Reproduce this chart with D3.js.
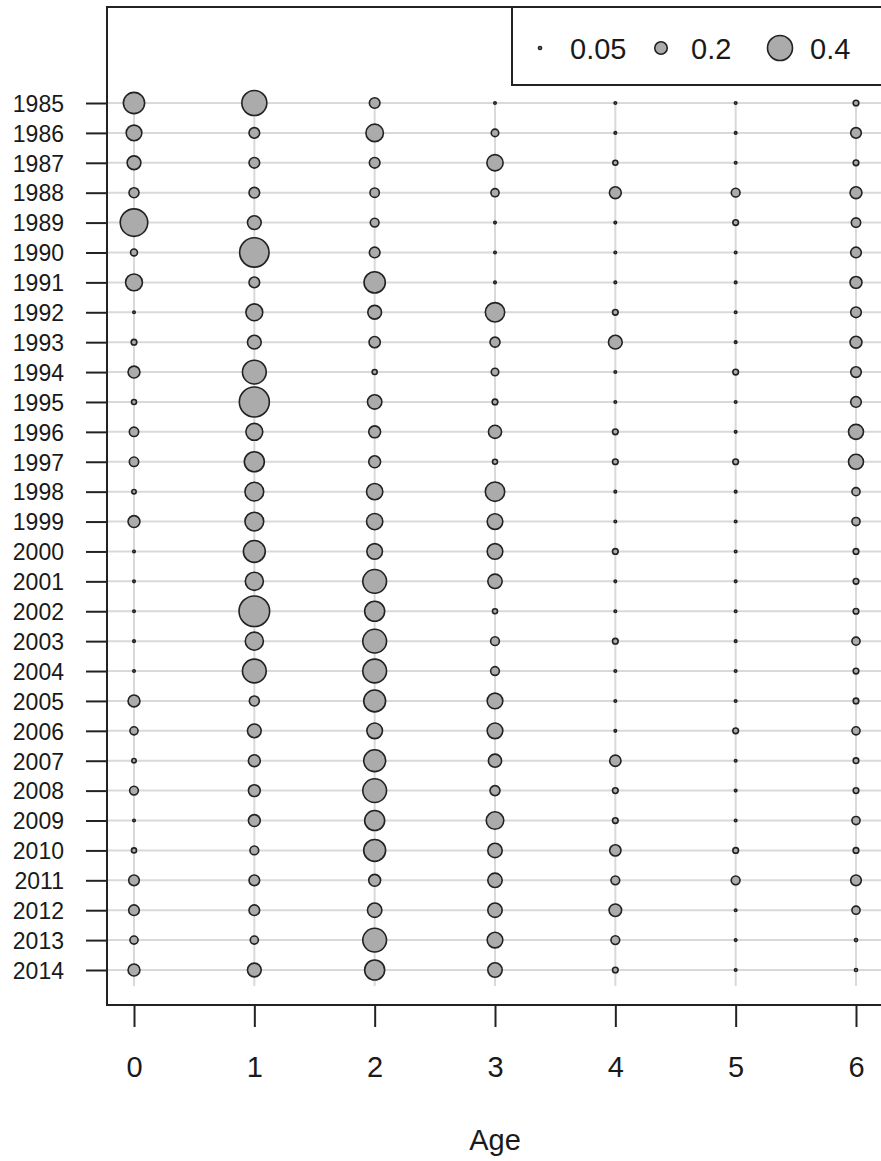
<!DOCTYPE html>
<html>
<head>
<meta charset="utf-8">
<script src="https://cdn.jsdelivr.net/npm/d3@7"></script>
<style>
  html, body { margin: 0; padding: 0; background: #fff; overflow: hidden; }
  svg { display: block; font-family: "Liberation Sans", Arial, sans-serif; }
</style>
</head>
<body>
<svg id="chart" width="881" height="1161"></svg>
<script>
// Proportion at age by year (bubble radius grows linearly with the value)
const years = d3.range(1985, 2015);
const ages = [0, 1, 2, 3, 4, 5, 6];

const age0 = [0.34, 0.25, 0.22, 0.16, 0.44, 0.11, 0.27, 0.04, 0.09, 0.19,
              0.08, 0.15, 0.15, 0.07, 0.19, 0.04, 0.04, 0.04, 0.04, 0.04,
              0.19, 0.13, 0.07, 0.14, 0.04, 0.08, 0.17, 0.17, 0.13, 0.19];
const age1 = [0.40, 0.17, 0.17, 0.17, 0.22, 0.47, 0.17, 0.27, 0.22, 0.38,
              0.48, 0.27, 0.32, 0.30, 0.30, 0.35, 0.29, 0.49, 0.29, 0.38,
              0.16, 0.22, 0.19, 0.19, 0.19, 0.14, 0.17, 0.17, 0.13, 0.22];
const age2 = [0.17, 0.28, 0.17, 0.15, 0.14, 0.17, 0.34, 0.22, 0.18, 0.08,
              0.23, 0.19, 0.19, 0.26, 0.26, 0.25, 0.38, 0.32, 0.38, 0.38,
              0.35, 0.25, 0.35, 0.38, 0.32, 0.35, 0.19, 0.23, 0.38, 0.32];
const age3 = [0.04, 0.12, 0.26, 0.13, 0.04, 0.04, 0.04, 0.31, 0.16, 0.12,
              0.09, 0.21, 0.08, 0.31, 0.25, 0.25, 0.23, 0.08, 0.14, 0.14,
              0.25, 0.25, 0.21, 0.16, 0.28, 0.23, 0.23, 0.23, 0.25, 0.23];
const age4 = [0.04, 0.04, 0.08, 0.19, 0.04, 0.04, 0.04, 0.09, 0.22, 0.04,
              0.04, 0.09, 0.09, 0.04, 0.04, 0.09, 0.04, 0.04, 0.09, 0.04,
              0.04, 0.04, 0.18, 0.09, 0.09, 0.18, 0.14, 0.20, 0.14, 0.09];
const age5 = [0.04, 0.04, 0.04, 0.14, 0.09, 0.04, 0.04, 0.04, 0.04, 0.09,
              0.04, 0.04, 0.09, 0.04, 0.04, 0.04, 0.04, 0.04, 0.04, 0.04,
              0.04, 0.09, 0.04, 0.04, 0.04, 0.09, 0.14, 0.04, 0.04, 0.04];
const age6 = [0.09, 0.17, 0.09, 0.19, 0.15, 0.17, 0.19, 0.17, 0.19, 0.17,
              0.17, 0.24, 0.24, 0.13, 0.13, 0.09, 0.09, 0.09, 0.13, 0.09,
              0.09, 0.13, 0.09, 0.09, 0.13, 0.09, 0.17, 0.13, 0.05, 0.05];

const legendValues = [0.05, 0.2, 0.4];
const legendLabels = ["0.05", "0.2", "0.4"];
const xTickLabels = ["0", "1", "2", "3", "4", "5", "6"];
const xTitle = "Age";

const columns = [age0, age1, age2, age3, age4, age5, age6];
const cells = [];
ages.forEach((a, i) => {
  years.forEach((y, j) => cells.push({ age: a, year: y, value: columns[i][j] }));
});

const svg = d3.select("#chart");

// Plot frame
const frame = { left: 107, top: 7, bottom: 1005, right: 900 };

const x = d3.scaleLinear().domain([0, 6]).range([134, 856]);
const y = d3.scaleLinear().domain([1985, 2014]).range([103, 970]);
const r = d3.scaleLinear().domain([0, 0.4]).range([0, 12.5]);

const fill = "#ababab";
const edge = "#222";
const gridColor = "#d9d9d9";
const textColor = "#1a1a1a";

// Grid: one horizontal line per year, one vertical line per age
const grid = svg.append("g");
grid.selectAll("line.h").data(years).join("line")
  .attr("x1", frame.left).attr("x2", frame.right)
  .attr("y1", d => y(d)).attr("y2", d => y(d))
  .attr("stroke", gridColor).attr("stroke-width", 2);
grid.selectAll("line.v").data(ages).join("line")
  .attr("x1", d => x(d)).attr("x2", d => x(d))
  .attr("y1", y(1985)).attr("y2", y(2014) + 16)
  .attr("stroke", gridColor).attr("stroke-width", 2);

// Bubbles
svg.append("g").selectAll("circle").data(cells).join("circle")
  .attr("cx", d => x(d.age))
  .attr("cy", d => y(d.year))
  .attr("r", d => r(d.value))
  .attr("fill", fill)
  .attr("stroke", edge)
  .attr("stroke-width", 1.6);

// Frame box
svg.append("path")
  .attr("d", `M${frame.right},${frame.top}H${frame.left}V${frame.bottom}H${frame.right}`)
  .attr("fill", "none").attr("stroke", "#222").attr("stroke-width", 2);

// Left axis (years)
const yAxis = d3.axisLeft(y).tickValues(years).tickFormat(d3.format("d"))
  .tickSize(21).tickPadding(22);
svg.append("g").attr("transform", `translate(${frame.left},0)`).call(yAxis)
  .call(g => g.select(".domain").remove())
  .call(g => g.selectAll(".tick line").attr("stroke", "#222").attr("stroke-width", 2))
  .call(g => g.selectAll(".tick text")
    .attr("font-size", 23).attr("fill", textColor)
    .attr("font-family", "'Liberation Sans', Arial, sans-serif")
    .attr("x", -43).attr("dy", "0.36em"));

// Bottom axis (ages)
const xAxis = d3.axisBottom(x).tickValues(ages).tickFormat((d, i) => xTickLabels[i])
  .tickSize(22).tickPadding(28);
svg.append("g").attr("transform", `translate(0,${frame.bottom})`).call(xAxis)
  .call(g => g.select(".domain").remove())
  .call(g => g.selectAll(".tick line").attr("stroke", "#222").attr("stroke-width", 2))
  .call(g => g.selectAll(".tick text")
    .attr("font-size", 29).attr("fill", textColor)
    .attr("font-family", "'Liberation Sans', Arial, sans-serif")
    .attr("y", 72).attr("dy", 0));

// Axis title
svg.append("text")
  .attr("x", 495).attr("y", 1150)
  .attr("text-anchor", "middle")
  .attr("font-size", 29).attr("fill", textColor)
  .text(xTitle);

// Legend
const legend = svg.append("g");
legend.append("rect")
  .attr("x", 512).attr("y", frame.top).attr("width", 420).attr("height", 78)
  .attr("fill", "#fff").attr("stroke", "#222").attr("stroke-width", 2);
const legendX = [540, 661, 780];
legendValues.forEach((v, i) => {
  legend.append("circle")
    .attr("cx", legendX[i]).attr("cy", 48).attr("r", r(v))
    .attr("fill", fill).attr("stroke", edge).attr("stroke-width", 1.6);
  legend.append("text")
    .attr("x", legendX[i] + 30).attr("y", 59)
    .attr("font-size", 29).attr("fill", textColor)
    .text(legendLabels[i]);
});
</script>
</body>
</html>
